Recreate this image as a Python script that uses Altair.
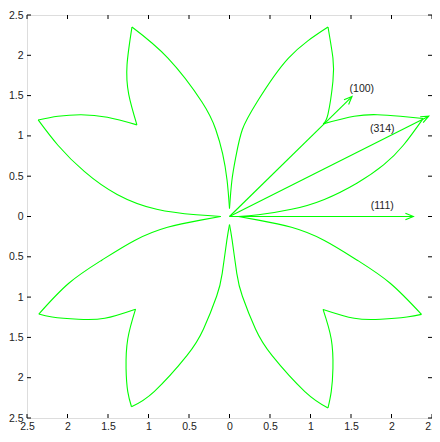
import altair as alt
import numpy as np
import pandas as pd

# ---- petal boundary curves (x, y) ----
ur_vert_inner = [(0.0, 0.10), (0.03, 0.45), (0.08, 0.75), (0.159, 1.08), (0.34, 1.42), (0.728, 1.965), (1.216, 2.351)]
ur_vert_outer = [(1.216, 2.351), (1.277, 1.965), (1.277, 1.678), (1.216, 1.271), (1.155, 1.149)]
ur_horz_upper = [(1.155, 1.149), (1.54, 1.243), (1.826, 1.263), (2.11, 1.243), (2.39, 1.215)]
ur_horz_lower = [(2.39, 1.215), (2.146, 0.884), (1.902, 0.64), (1.577, 0.416), (1.171, 0.212), (0.765, 0.089), (0.357, 0.021), (0.11, 0.0)]

ul_vert_inner = [(0.0, 0.10), (-0.03, 0.45), (-0.085, 0.78), (-0.17, 1.08), (-0.34, 1.42), (-0.76, 1.965), (-1.204, 2.351)]
ul_vert_outer = [(-1.204, 2.351), (-1.265, 1.883), (-1.244, 1.516), (-1.143, 1.137)]
ul_horz_upper = [(-1.143, 1.137), (-1.508, 1.231), (-1.833, 1.263), (-2.118, 1.243), (-2.362, 1.198)]
ul_horz_lower = [(-2.362, 1.198), (-2.118, 0.884), (-1.793, 0.559), (-1.387, 0.273), (-0.899, 0.089), (-0.411, 0.021), (-0.106, 0.0)]

lr_horz_upper = [(0.11, 0.0), (0.357, -0.045), (0.765, -0.134), (1.171, -0.297), (1.577, -0.542), (1.984, -0.828), (2.37, -1.214)]
lr_horz_lower = [(2.37, -1.214), (2.19, -1.247), (1.866, -1.275), (1.54, -1.263), (1.155, -1.153)]
lr_vert_outer = [(1.155, -1.153), (1.256, -1.52), (1.277, -1.886), (1.256, -2.172), (1.216, -2.375)]
lr_vert_inner = [(1.216, -2.375), (0.93, -2.172), (0.524, -1.724), (0.321, -1.397), (0.159, -0.99), (0.09, -0.705), (0.033, -0.297), (0.0, -0.10)]

ll_horz_upper = [(-0.11, 0.0), (-0.357, -0.045), (-0.765, -0.134), (-1.171, -0.297), (-1.577, -0.542), (-1.984, -0.828), (-2.354, -1.21)]
ll_horz_lower = [(-2.354, -1.21), (-2.19, -1.247), (-1.866, -1.275), (-1.54, -1.263), (-1.16, -1.15)]
ll_vert_outer = [(-1.16, -1.15), (-1.256, -1.52), (-1.277, -1.886), (-1.256, -2.172), (-1.21, -2.36)]
ll_vert_inner = [(-1.21, -2.36), (-0.93, -2.172), (-0.524, -1.724), (-0.321, -1.397), (-0.159, -0.99), (-0.09, -0.705), (-0.033, -0.297), (0.0, -0.10)]

# ---- direction arrows ----
arrow_names = ["(100)", "(314)", "(111)"]
arrow_tip_x = [1.512, 2.46, 2.27]
arrow_tip_y = [1.488, 1.245, 0.0]
label_x = [1.634, 1.886, 1.886]
label_y = [1.577, 1.088, 0.131]

tick_values = [-2.5, -2.0, -1.5, -1.0, -0.5, 0.0, 0.5, 1.0, 1.5, 2.0, 2.5]

curves = {
    "ur_vert_inner": ur_vert_inner, "ur_vert_outer": ur_vert_outer,
    "ur_horz_upper": ur_horz_upper, "ur_horz_lower": ur_horz_lower,
    "ul_vert_inner": ul_vert_inner, "ul_vert_outer": ul_vert_outer,
    "ul_horz_upper": ul_horz_upper, "ul_horz_lower": ul_horz_lower,
    "lr_horz_upper": lr_horz_upper, "lr_horz_lower": lr_horz_lower,
    "lr_vert_outer": lr_vert_outer, "lr_vert_inner": lr_vert_inner,
    "ll_horz_upper": ll_horz_upper, "ll_horz_lower": ll_horz_lower,
    "ll_vert_outer": ll_vert_outer, "ll_vert_inner": ll_vert_inner,
}
rows = []
for name, pts in curves.items():
    for i, (x, y) in enumerate(pts):
        rows.append({"curve": name, "i": i, "x": x, "y": y})
curve_df = pd.DataFrame(rows)

arrow_df = pd.DataFrame({
    "name": arrow_names,
    "x0": [0.0] * len(arrow_names), "y0": [0.0] * len(arrow_names),
    "x": arrow_tip_x, "y": arrow_tip_y,
    "lx": label_x, "ly": label_y,
})
arrow_df["ang"] = (-np.degrees(np.arctan2(arrow_df["y"], arrow_df["x"]))) % 360

tick_df = pd.DataFrame({"t": tick_values})

GREEN = "#00ff00"
FONT = "Liberation Sans Narrow, Liberation Sans, Arial, sans-serif"
W, H = 405, 403
xs = alt.Scale(domain=[-2.5, 2.5], nice=False, zero=False)
ys = alt.Scale(domain=[-2.5, 2.5], nice=False, zero=False)

xaxis = alt.Axis(values=tick_values, labelExpr="'' + abs(datum.value)", title=None, grid=False,
                 domain=False, ticks=False, labelPadding=3, labelFontSize=10.5, labelFont=FONT,
                 labelColor="#222222", labelFlush=False, labelOverlap=False)
yaxis = alt.Axis(values=tick_values, labelExpr="'' + abs(datum.value)", title=None, grid=False,
                 domain=False, ticks=False, labelPadding=4, labelFontSize=10.5, labelFont=FONT,
                 labelColor="#222222", labelOverlap=False)

lines = alt.Chart(curve_df).mark_line(color=GREEN, strokeWidth=1.1, interpolate="natural").encode(
    x=alt.X("x:Q", scale=xs, axis=xaxis),
    y=alt.Y("y:Q", scale=ys, axis=yaxis),
    detail="curve:N",
    order="i:Q",
)

shafts = alt.Chart(arrow_df).mark_rule(color=GREEN, strokeWidth=1.1).encode(
    x=alt.X("x0:Q", scale=xs), y=alt.Y("y0:Q", scale=ys), x2="x:Q", y2="y:Q"
)

heads = alt.Chart(arrow_df).mark_point(
    shape="M-2.4,-1L0,0L-2.4,1", filled=False, color=GREEN, strokeWidth=1.1, size=44, opacity=1
).encode(
    x=alt.X("x:Q", scale=xs), y=alt.Y("y:Q", scale=ys),
    angle=alt.Angle("ang:Q", scale=None),
)

labels = alt.Chart(arrow_df).mark_text(font=FONT, fontSize=10.5, color="#222222").encode(
    x=alt.X("lx:Q", scale=xs), y=alt.Y("ly:Q", scale=ys), text="name:N"
)

TL = 4
tb = alt.Chart(tick_df).mark_rule(color="black", strokeWidth=1).encode(
    x=alt.X("t:Q", scale=xs), y=alt.value(H), y2=alt.value(H - TL))
tt = alt.Chart(tick_df).mark_rule(color="black", strokeWidth=1).encode(
    x=alt.X("t:Q", scale=xs), y=alt.value(0), y2=alt.value(TL))
tl = alt.Chart(tick_df).mark_rule(color="black", strokeWidth=1).encode(
    y=alt.Y("t:Q", scale=ys), x=alt.value(0), x2=alt.value(TL))
tr = alt.Chart(tick_df).mark_rule(color="black", strokeWidth=1).encode(
    y=alt.Y("t:Q", scale=ys), x=alt.value(W), x2=alt.value(W - TL))

chart = alt.layer(lines, shafts, heads, labels, tb, tt, tl, tr).properties(
    width=W, height=H,
    autosize=alt.AutoSizeParams(type="none"),
    padding={"left": 19, "top": 7, "right": 0, "bottom": 12},
).configure_view(stroke="black", strokeWidth=1).configure(background="white")

chart.save("out.html", embed_options={"renderer": "svg", "actions": False})
